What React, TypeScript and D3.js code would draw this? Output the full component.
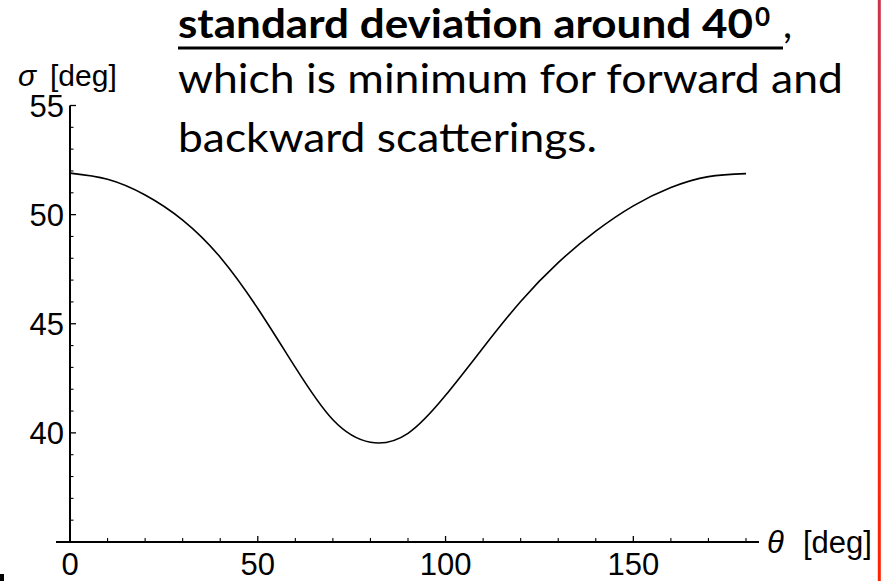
import React from "react";
import * as d3 from "d3";

// ---- data ----
const theta = [0, 10, 20, 30, 40, 50, 60, 70, 80, 90, 100, 110, 120, 130, 140, 150, 160, 170, 180];
const sigma = [51.9, 51.62, 50.9, 49.75, 48.05, 45.7, 43.0, 40.6, 39.57, 39.98, 41.72, 43.9, 46.02, 47.8, 49.24, 50.4, 51.24, 51.74, 51.88];
const xMajorTicks = [0, 50, 100, 150];
const xMinorTicks = [10, 20, 30, 40, 60, 70, 80, 90, 110, 120, 130, 140, 160, 170, 180];
const yMajorTicks = [40, 45, 50, 55];
const yMinorTicks = [36, 37, 38, 39, 41, 42, 43, 44, 46, 47, 48, 49, 51, 52, 53, 54];
const textLines = [
  "standard deviation around 40",
  "which is minimum for forward and",
  "backward scatterings.",
];

const W = 881;
const H = 581;

export default function App() {
  const x = d3.scaleLinear().domain([0, 180]).range([70, 746]);
  const y = d3.scaleLinear().domain([35, 55]).range([542, 105.5]);
  const pts = theta.map((t, i) => [t, sigma[i]] as [number, number]);
  const line = d3
    .line<[number, number]>()
    .x((d) => x(d[0]))
    .y((d) => y(d[1]))
    .curve(d3.curveNatural);

  const axisFont = "'Liberation Sans', Arial, Helvetica, sans-serif";
  const textFont = "Lato, 'Open Sans', sans-serif";
  const x0 = y(35);
  const yx = x(0);

  return (
    <svg
      width={W}
      height={H}
      viewBox={`0 0 ${W} ${H}`}
      style={{ position: "absolute", left: 0, top: 0, background: "#fff" }}
    >
      <defs>
        <linearGradient id="redline" x1="0" y1="0" x2="0" y2="1">
          <stop offset="0" stopColor="#c8354a" />
          <stop offset="0.45" stopColor="#ec2a22" />
          <stop offset="1" stopColor="#ff2200" />
        </linearGradient>
      </defs>
      <rect x={0} y={0} width={W} height={H} fill="#fff" />

      {/* text block */}
      <text
        x={178}
        y={38}
        fontFamily={textFont}
        fontWeight="bold"
        fontSize={40}
        textLength={575}
        lengthAdjust="spacingAndGlyphs"
        fill="#000"
      >
        {textLines[0]}
      </text>
      <text x={755} y={26} fontFamily={textFont} fontWeight="bold" fontSize={26} fill="#000">
        0
      </text>
      <text x={783} y={38} fontFamily={textFont} fontSize={40} fill="#000">
        ,
      </text>
      <line x1={178} x2={783} y1={48} y2={48} stroke="#000" strokeWidth={3} />
      <text
        x={178}
        y={93}
        fontFamily={textFont}
        fontSize={40}
        textLength={665}
        lengthAdjust="spacingAndGlyphs"
        fill="#000"
      >
        {textLines[1]}
      </text>
      <text
        x={178}
        y={152}
        fontFamily={textFont}
        fontSize={40}
        textLength={419}
        lengthAdjust="spacingAndGlyphs"
        fill="#000"
      >
        {textLines[2]}
      </text>

      {/* axes */}
      <line x1={56} x2={759} y1={x0} y2={x0} stroke="#000" strokeWidth={2} />
      <line x1={yx} x2={yx} y1={x0} y2={y(55)} stroke="#000" strokeWidth={2} />

      {xMajorTicks.map((t) => (
        <g key={"xM" + t}>
          <line x1={x(t)} x2={x(t)} y1={x0} y2={x0 - 6} stroke="#000" strokeWidth={1.3} />
          <text x={x(t)} y={575} textAnchor="middle" fontFamily={axisFont} fontSize={31} fill="#000">
            {t}
          </text>
        </g>
      ))}
      {xMinorTicks.map((t) => (
        <line key={"xm" + t} x1={x(t)} x2={x(t)} y1={x0} y2={x0 - 4} stroke="#000" strokeWidth={1.1} />
      ))}
      {yMajorTicks.map((v) => (
        <g key={"yM" + v}>
          <line x1={yx} x2={yx + 6} y1={y(v)} y2={y(v)} stroke="#000" strokeWidth={1.3} />
          <text
            x={64}
            y={y(v)}
            dy="0.36em"
            textAnchor="end"
            fontFamily={axisFont}
            fontSize={31}
            fill="#000"
          >
            {v}
          </text>
        </g>
      ))}
      {yMinorTicks.map((v) => (
        <line key={"ym" + v} x1={yx} x2={yx + 3.5} y1={y(v)} y2={y(v)} stroke="#000" strokeWidth={1.1} />
      ))}

      {/* axis labels */}
      <text x={18} y={86} fontFamily={axisFont} fontSize={30} fill="#000">
        <tspan fontStyle="italic">σ</tspan>
        <tspan x={50}>[deg]</tspan>
      </text>
      <text x={767} y={553} fontFamily={axisFont} fontSize={31} fill="#000">
        <tspan fontStyle="italic">θ</tspan>
        <tspan x={803}>[deg]</tspan>
      </text>

      {/* curve */}
      <path d={line(pts) || ""} fill="none" stroke="#000" strokeWidth={1.6} />

      {/* right red border line */}
      <rect x={877.8} y={0} width={3} height={H} fill="url(#redline)" />
      {/* cropped fragment at bottom-left */}
      <rect x={0} y={574} width={4} height={7} fill="#000" />
    </svg>
  );
}
